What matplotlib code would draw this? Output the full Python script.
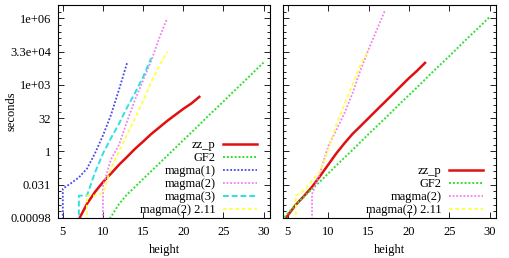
import matplotlib
matplotlib.use("Agg")
import matplotlib.pyplot as plt
from matplotlib.ticker import FixedLocator, NullFormatter

plt.rcParams['font.family'] = ['Liberation Serif', 'DejaVu Serif']

# ---------- data: left panel ----------
left_zz_h = list(range(7, 23))
left_zz_s = [0.00085, 0.0042, 0.0146, 0.041, 0.10, 0.25, 0.57, 1.32,
             2.8, 6.1, 12.1, 24, 45, 84, 147, 294]

left_gf2_h = list(range(10, 31))
left_gf2_s = [0.00034, 0.0011, 0.0042, 0.0113, 0.025, 0.057, 0.127, 0.285,
              0.64, 1.43, 3.2, 7.2, 16, 37, 82, 181, 416, 923, 2048, 4700, 10440]

left_m1_h = list(range(4, 14))
left_m1_s = [0, 0.0206, 0.036, 0.067, 0.165, 0.81, 5.3, 45, 630, 10080]

left_m2_h = list(range(9, 19))
left_m2_s = [0, 0.027, 0.44, 2.0, 23, 220, 1660, 12400, 131000, 1050000]

left_m3_h = list(range(6, 17))
left_m3_s = [0, 0.01, 0.01, 0.11, 0.81, 4.0, 18, 97, 450, 2350, 16400]

left_m211_h = list(range(7, 19))
left_m211_s = [0, 0.01, 0.01, 0.013, 0.18, 1.0, 5.7, 32, 190, 1350, 7100, 32800]

# ---------- data: right panel ----------
right_zz_h = list(range(4, 23))
right_zz_s = [0.00037, 0.0013, 0.0039, 0.0096, 0.025, 0.077, 0.25, 0.81, 2.3,
              6.1, 13.9, 32, 74, 169, 388, 891, 2048, 4390, 10085]

right_gf2_h = list(range(4, 31))
right_gf2_s = [0.00056, 0.0016, 0.0039, 0.009, 0.0199, 0.044, 0.10, 0.23, 0.52,
               1.15, 2.64, 6.06, 13.5, 29.9, 68.6, 158, 350, 776, 1783, 4096,
               9090, 20170, 46340, 106400, 236000, 524300, 1204000]

right_m2_h = list(range(7, 18))
right_m2_s = [0, 0.0118, 0.109, 1.74, 9.19, 52, 416, 4705, 40342, 301170, 2200000]

right_m211_h = list(range(5, 16))
right_m211_s = [0, 0.01, 0.0168, 0.0474, 0.125, 1.23, 16, 128, 1024, 8192, 37640]

# ---------- axis ticks ----------
y_tick_exp = [-10, -5, 0, 5, 10, 15, 20]
y_tick_labels = ["0.00098", "0.031", "1", "32", "1e+03", "3.3e+04", "1e+06"]
x_ticks = [5, 10, 15, 20, 25, 30]

FS = 9

# gnuplot-like styles
styles = {
    "zz_p":           dict(color="#e01010", lw=1.8, ls="-"),
    "GF2":            dict(color="#30e030", lw=1.4, ls=(0, (1, 1))),
    "magma(1)":       dict(color="#4848e8", lw=1.3, ls=(0, (1, 1))),
    "magma(2)":       dict(color="#f080f0", lw=1.3, ls=(0, (1, 1))),
    "magma(3)":       dict(color="#30e0e0", lw=1.4, ls=(0, (3, 1.5))),
    "magma(2) 2.11":  dict(color="#ffff40", lw=1.3, ls=(0, (2, 1.5))),
}

W, H = 509, 258
fig = plt.figure(figsize=(W / 100, H / 100), dpi=100)
ax_l = fig.add_axes([58 / W, 1 - 218 / H, 212 / W, 213 / H])
ax_r = fig.add_axes([283 / W, 1 - 218 / H, 213 / W, 213 / H])


def style_axis(ax, show_ylabels):
    ax.set_yscale("log")
    ax.set_xlim(4.4, 30.8)
    ax.set_ylim(2.0 ** -10, 2.0 ** 22)
    ax.yaxis.set_major_locator(FixedLocator([2.0 ** e for e in y_tick_exp]))
    ax.yaxis.set_minor_locator(FixedLocator([2.0 ** e for e in range(-10, 23)]))
    ax.yaxis.set_minor_formatter(NullFormatter())
    if show_ylabels:
        ax.set_yticklabels(y_tick_labels)
    else:
        ax.set_yticklabels([])
    ax.set_xticks(x_ticks)
    ax.tick_params(which="both", direction="in", top=True, right=True,
                   labelsize=FS, width=0.6, pad=5)
    ax.tick_params(axis="x", pad=6)
    ax.tick_params(which="major", length=4)
    ax.tick_params(which="minor", length=2)
    for sp in ax.spines.values():
        sp.set_linewidth(0.8)
    ax.set_xlabel("height", fontsize=FS, labelpad=4)


series_left = [
    ("zz_p", left_zz_h, left_zz_s),
    ("GF2", left_gf2_h, left_gf2_s),
    ("magma(1)", left_m1_h, left_m1_s),
    ("magma(2)", left_m2_h, left_m2_s),
    ("magma(3)", left_m3_h, left_m3_s),
    ("magma(2) 2.11", left_m211_h, left_m211_s),
]
series_right = [
    ("zz_p", right_zz_h, right_zz_s),
    ("GF2", right_gf2_h, right_gf2_s),
    ("magma(2)", right_m2_h, right_m2_s),
    ("magma(2) 2.11", right_m211_h, right_m211_s),
]

for ax, series, show in [(ax_l, series_left, True), (ax_r, series_right, False)]:
    for name, h, s in series:
        ax.plot(h, s, label=name, **styles[name])
    style_axis(ax, show)
    ax.legend(loc="lower right", bbox_to_anchor=(0.948, 0.0), frameon=False,
              markerfirst=False, fontsize=FS, handlelength=2.7,
              handletextpad=0.6, labelspacing=0.08, borderpad=0.15,
              borderaxespad=0)

ax_l.set_ylabel("seconds", fontsize=FS)
ax_l.yaxis.set_label_coords(-0.19, 0.5)

fig.savefig("out.png", dpi=100)
